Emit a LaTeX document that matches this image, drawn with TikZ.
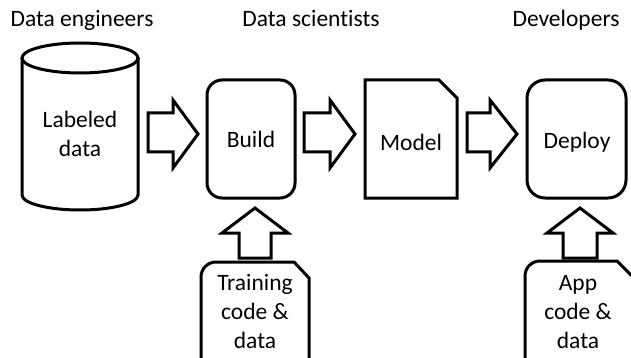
\documentclass[tikz,border=0pt]{standalone}
\usepackage{fontspec}
\setmainfont[Ligatures=NoCommon]{Carlito}
\begin{document}
\begin{tikzpicture}[x=1pt,y=-1pt,
  outline/.style={draw=black, line width=3pt, fill=white, line join=miter},
  blockarrow/.style={draw=black, line width=3pt, fill=white, line join=miter},
  lbl/.style={font=\fontsize{23.5}{29}\selectfont, align=center, inner sep=0pt, anchor=base}]
\useasboundingbox (0,0) rectangle (631,358);
\clip (0,0) rectangle (631,358);
% titles
\node[lbl] (t1) at (82,27) {Data engineers};
\node[lbl] (t2) at (311,27) {Data scientists};
\node[lbl] (t3) at (566,27) {Developers};
% cylinder
\draw[outline] (22,58) -- (22,195) arc[start angle=180, end angle=0, x radius=58, y radius=15] -- (138,58);
\draw[outline] (80,58) ellipse[x radius=58, y radius=15];
\node[lbl] (labeled) at (80,157) {Labeled\\data};
% build
\draw[outline, rounded corners=15pt] (207,80) rectangle (295,198);
\node[lbl] (build) at (251,148) {Build};
% model
\draw[outline] (365,80) -- (439,80) -- (457,98) -- (457,198) -- (365,198) -- cycle;
\node[lbl] (model) at (411,150) {Model};
% deploy
\draw[outline, rounded corners=18pt] (527,80) rectangle (626,198);
\node[lbl] (deploy) at (577,149) {Deploy};
% training doc
\draw[outline] (201,380) [rounded corners=15pt] -- (201,262) [sharp corners] -- (294,262) -- (309,278) -- (309,380);
\node[lbl] (train) at (255,348) {Training\\code \&\\data};
% app doc
\draw[outline] (525,380) [rounded corners=15pt] -- (525,261) [sharp corners] -- (617,261) -- (634,278) -- (634,380);
\node[lbl] (app) at (578,348) {App\\code \&\\data};
% right arrows
\draw[blockarrow] (148,113) -- (173,113) -- (173,100) -- (198,134) -- (173,168) -- (173,152) -- (148,152) -- cycle;
\draw[blockarrow] (304,113) -- (330,113) -- (330,100) -- (355,134) -- (330,168) -- (330,152) -- (304,152) -- cycle;
\draw[blockarrow] (467,113) -- (490,113) -- (490,100) -- (517,134) -- (490,168) -- (490,152) -- (467,152) -- cycle;
% up arrows
\draw[blockarrow] (239,258) -- (239,233) -- (222,233) -- (255,208) -- (288,233) -- (271,233) -- (271,258) -- cycle;
\draw[blockarrow] (563,258) -- (563,233) -- (547,233) -- (580,208) -- (613,233) -- (597,233) -- (597,258) -- cycle;
\end{tikzpicture}
\end{document}
